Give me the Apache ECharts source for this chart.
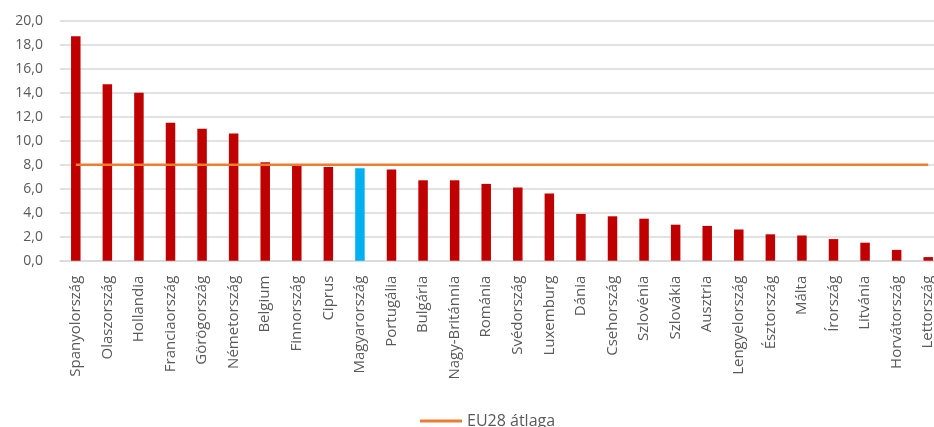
<!DOCTYPE html>
<html><head><meta charset="utf-8">
<script src="https://cdn.jsdelivr.net/npm/echarts@6/dist/echarts.min.js"></script>
<style>html,body{margin:0;padding:0;background:#fff;overflow:hidden}#c{width:944px;height:427px}</style>
</head><body><div id="c"></div>
<script>
const categories = ['Spanyolország','Olaszország','Hollandia','Franciaország','Görögország','Németország','Belgium','Finnország','Ciprus','Magyarország','Portugália','Bulgária','Nagy-Británnia','Románia','Svédország','Luxemburg','Dánia','Csehország','Szlovénia','Szlovákia','Ausztria','Lengyelország','Észtország','Málta','Írország','Litvánia','Horvátország','Lettország'];
const values = [18.7,14.7,14.0,11.5,11.0,10.6,8.2,7.9,7.8,7.7,7.6,6.7,6.7,6.4,6.1,5.6,3.9,3.7,3.5,3.0,2.9,2.6,2.2,2.1,1.8,1.5,0.9,0.3];
const euAverage = 8.0;
const highlighted = 'Magyarország';
const lineName = 'EU28 átlaga';

const chart = echarts.init(document.getElementById('c'));
const font = 'Open Sans';
chart.setOption({
  animation: false,
  textStyle: {fontFamily: font},
  grid: {left: 60, top: 20.7, right: 0, height: 240, containLabel: false},
  legend: {
    left: 415, top: 408,
    data: [{name: lineName, icon: 'rect'}],
    itemWidth: 42, itemHeight: 3, itemGap: 5,
    textStyle: {color: '#595959', fontSize: 16, fontFamily: font}
  },
  xAxis: {
    type: 'category', data: categories,
    axisTick: {show: false},
    axisLine: {lineStyle: {color: '#D9D9D9', width: 1.5}},
    axisLabel: {rotate: 90, interval: 0, margin: 15, color: '#595959', fontSize: 15, fontFamily: font}
  },
  yAxis: {
    type: 'value', min: 0, max: 20, interval: 2,
    axisLine: {show: false}, axisTick: {show: false},
    splitLine: {lineStyle: {color: '#D9D9D9', width: 1.5}},
    axisLabel: {margin: 17, color: '#595959', fontSize: 14, fontFamily: font,
      formatter: v => v.toFixed(1).replace('.', ',')}
  },
  series: [
    {
      type: 'bar', name: 'Érték', barWidth: 9.5,
      data: values.map((v, i) => ({value: v, itemStyle: {color: categories[i] === highlighted ? '#00B0F0' : '#C00000'}}))
    },
    {
      type: 'line', name: lineName, symbol: 'none',
      data: categories.map(() => euAverage),
      lineStyle: {color: '#ED7D31', width: 2.5},
      itemStyle: {color: '#ED7D31'}
    }
  ]
});
</script></body></html>
